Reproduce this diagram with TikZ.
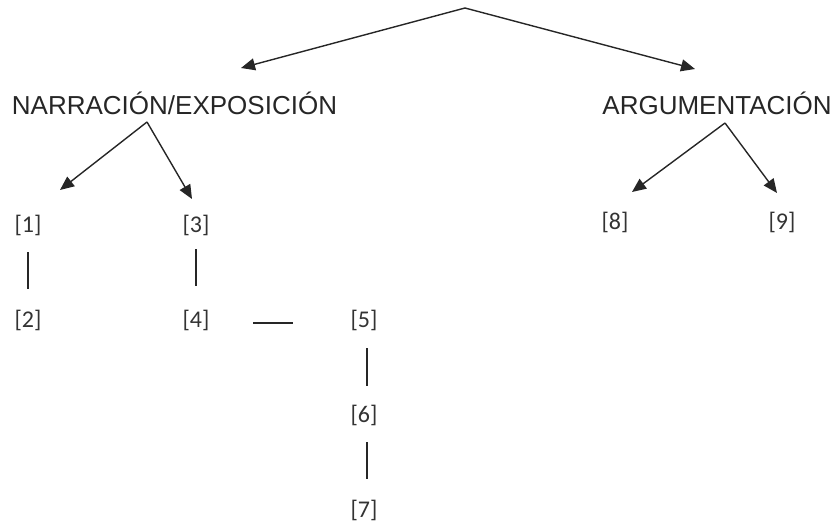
\documentclass[tikz,border=0pt]{standalone}
\usepackage{fontspec}
\setmainfont{Liberation Sans}
\newfontfamily\calfont{Carlito}
\usetikzlibrary{arrows.meta}
\begin{document}
\begin{tikzpicture}[x=1pt,y=-1pt,
  head/.style={font=\fontsize{26}{30}\selectfont, inner sep=0pt, anchor=center, text=black!85},
  lbl/.style={font=\calfont\fontsize{24}{28}\selectfont, inner sep=0pt, text=black!80},
  arr/.style={line width=1.4pt, black!85, -{Triangle[length=14pt,width=12pt]}},
  ln/.style={line width=1.2pt, black!85}]
\useasboundingbox (0,0) rectangle (837,532);
% headings
\node[head] (narr) at (174.5,103) {NARRACIÓN/EXPOSICIÓN};
\node[head] (argu) at (717,103) {ARGUMENTACIÓN};
% labels
\node[lbl] (n1) at (28,225) {[1]};
\node[lbl] (n3) at (196,225) {[3]};
\node[lbl] (n2) at (28,320) {[2]};
\node[lbl] (n4) at (196,320) {[4]};
\node[lbl] (n5) at (364,320) {[5]};
\node[lbl] (n6) at (364,415) {[6]};
\node[lbl] (n7) at (364,510) {[7]};
\node[lbl] (n8) at (615,222) {[8]};
\node[lbl] (n9) at (782,222) {[9]};
% coordinates
\coordinate (top) at (465,8);
\coordinate (tipNarr) at (241,68);
\coordinate (tipArgu) at (695,69);
\coordinate (narrOut) at (147,122);
\coordinate (tip1) at (60,190);
\coordinate (tip3) at (192,199);
\coordinate (arguOut) at (725,123);
\coordinate (tip8) at (632,192);
\coordinate (tip9) at (777,193);
% arrows
\draw[arr] (top) -- (tipNarr);
\draw[arr] (top) -- (tipArgu);
\draw[arr] (narrOut) -- (tip1);
\draw[arr] (narrOut) -- (tip3);
\draw[arr] (arguOut) -- (tip8);
\draw[arr] (arguOut) -- (tip9);
% lines
\draw[ln, shorten <=27pt, shorten >=31pt] (n1.center) -- (n2.center);
\draw[ln, shorten <=24pt, shorten >=34pt] (n3.center) -- (n4.center);
\draw[ln, shorten <=57pt, shorten >=71pt] ([yshift=-3pt]n4.center) -- ([yshift=-3pt]n5.center);
\draw[ln, shorten <=28pt, shorten >=29pt] ([xshift=3pt]n5.center) -- ([xshift=3pt]n6.center);
\draw[ln, shorten <=27pt, shorten >=31pt] ([xshift=3pt]n6.center) -- ([xshift=3pt]n7.center);
\end{tikzpicture}
\end{document}
